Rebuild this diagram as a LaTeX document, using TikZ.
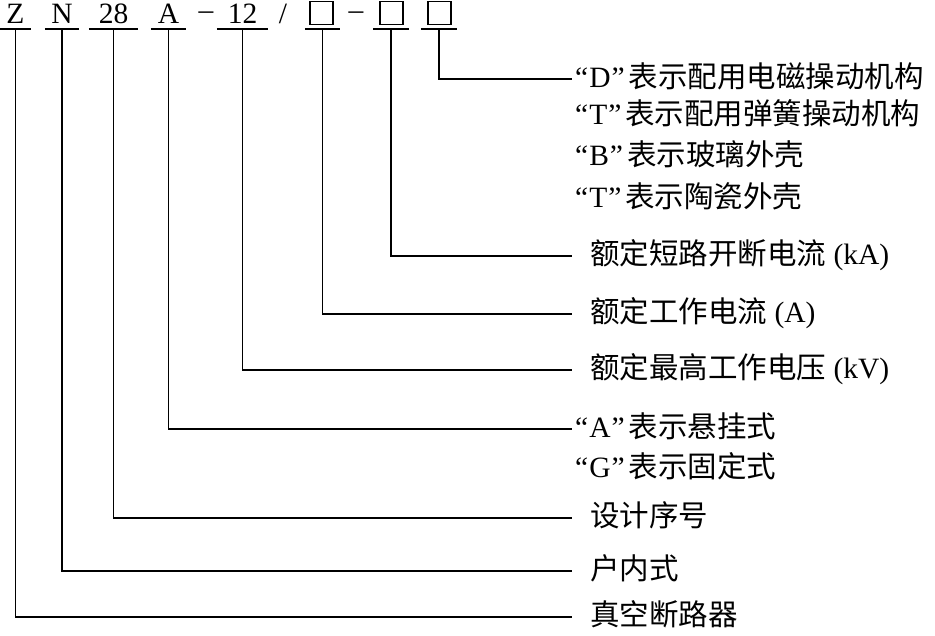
\documentclass[tikz,border=0pt]{standalone}
\usepackage{fontspec}
\setmainfont{Liberation Serif}
\newfontfamily\cjk{Noto Sans CJK SC}
\usepackage{tikz}
\usetikzlibrary{positioning}
\newcommand{\qt}[1]{“\kern1pt#1\kern1pt”\kern4pt}

\begin{document}
\begin{tikzpicture}[
  x=1pt,y=-1pt,
  font=\fontsize{29.5}{34}\selectfont,
  lead/.style={line width=1.5pt},
  code/.style={anchor=south,inner sep=0pt,text depth=5pt},
  sq/.style={draw,line width=1.4pt,minimum size=23pt,inner sep=0pt,anchor=north},
  lab/.style={anchor=west,inner ysep=0pt,inner xsep=3pt,text height=22pt,text depth=6pt},
  plab/.style={lab,inner xsep=18pt},
]
\useasboundingbox (0,0) rectangle (935,635);
\node[code,minimum width=31pt] (z) at (15.5,29) {Z};
\node[code,minimum width=34pt] (n) at (62,29) {N};
\node[code,minimum width=49pt] (num) at (113.5,29) {28};
\node[code,minimum width=35pt] (a) at (168.5,29) {A};
\node[code,yshift=4pt] (d1) at (206,29) {\textendash};
\node[code,minimum width=51pt] (volt) at (242.5,29) {12};
\node[code] (sl) at (283,29) {/};
\node[code,minimum width=35pt] (b1) at (322.5,29) {};
\node[code,yshift=4pt] (d2) at (356,29) {\textendash};
\node[code,minimum width=35pt] (b2) at (391,29) {};
\node[code,minimum width=36pt] (b3) at (439,29) {};
\node[sq] (s1) at (321.5,1) {};
\node[sq] (s2) at (391.5,1) {};
\node[sq] (s3) at (439.5,1) {};
\foreach \n in {z,n,num,a,volt,b1,b2,b3}
  \draw[lead] (\n.south west) -- (\n.south east);

\node[lab] (ld) at (572,79) {\qt{D}{\cjk 表示配用电磁操动机构}};
\node[lab] (lt) at (572,116) {\qt{T}{\cjk 表示配用弹簧操动机构}};
\node[lab] (lb) at (572,157) {\qt{B}{\cjk 表示玻璃外壳}};
\node[lab] (lc) at (572,199) {\qt{T}{\cjk 表示陶瓷外壳}};
\node[plab] (lka) at (572,256) {{\cjk 额定短路开断电流} (kA)};
\node[plab] (lamp) at (572,314) {{\cjk 额定工作电流} (A)};
\node[plab] (lkv) at (572,370) {{\cjk 额定最高工作电压} (kV)};
\node[lab] (lhang) at (572,429) {\qt{A}{\cjk 表示悬挂式}};
\node[lab] (lfix) at (572,469) {\qt{G}{\cjk 表示固定式}};
\node[plab] (ldes) at (572,518) {\cjk 设计序号};
\node[plab] (lin) at (572,571) {\cjk 户内式};
\node[plab] (lvac) at (572,617) {\cjk 真空断路器};

\draw[lead] (b3.south) |- (ld.west);
\draw[lead] (b2.south) |- (lka.west);
\draw[lead] (b1.south) |- (lamp.west);
\draw[lead] (volt.south) |- (lkv.west);
\draw[lead] (a.south) |- (lhang.west);
\draw[lead] (num.south) |- (ldes.west);
\draw[lead] (n.south) |- (lin.west);
\draw[lead] (z.south) |- (lvac.west);
\end{tikzpicture}
\end{document}
